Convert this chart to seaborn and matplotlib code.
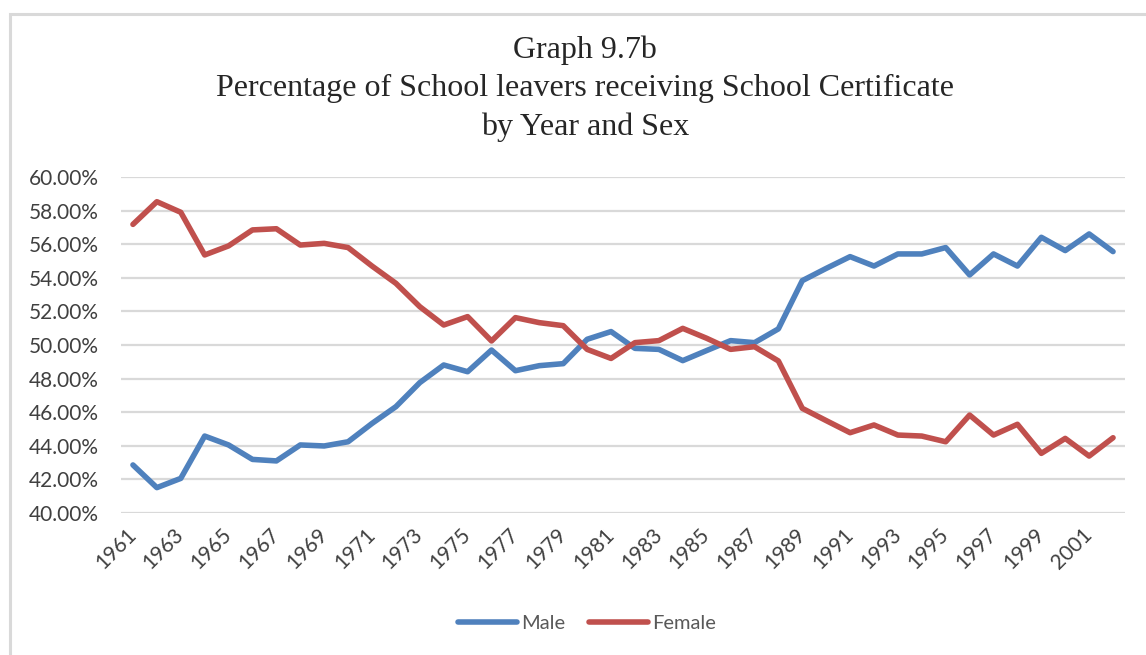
import numpy as np
import pandas as pd
import matplotlib
matplotlib.use("Agg")
import matplotlib.pyplot as plt
from matplotlib.patches import Rectangle
import seaborn as sns

# ---------------------------------------------------------------------------
# Data (percent of school leavers receiving School Certificate)
# ---------------------------------------------------------------------------
years = list(range(1961, 2003))
male = [
    42.86, 41.51, 42.06, 44.58, 44.05, 43.19, 43.10, 44.05, 43.99, 44.24,
    45.33, 46.33, 47.76, 48.81, 48.41, 49.70, 48.47, 48.77, 48.89, 50.34,
    50.80, 49.80, 49.74, 49.07, 49.67, 50.26, 50.14, 50.96, 53.83, 54.56,
    55.26, 54.70, 55.42, 55.42, 55.80, 54.17, 55.42, 54.70, 56.41, 55.62,
    56.61, 55.56,
]
female = [
    57.18, 58.53, 57.90, 55.36, 55.90, 56.85, 56.92, 55.95, 56.05, 55.80,
    54.70, 53.67, 52.28, 51.19, 51.69, 50.24, 51.63, 51.33, 51.15, 49.74,
    49.20, 50.14, 50.26, 50.99, 50.40, 49.74, 49.90, 49.05, 46.23, 45.50,
    44.78, 45.24, 44.64, 44.58, 44.24, 45.83, 44.64, 45.28, 43.55, 44.44,
    43.39, 44.48,
]
sexes = ["Male", "Female"]
colors = {"Male": "#4F81BD", "Female": "#C0504D"}
title_lines = [
    "Graph 9.7b",
    "Percentage of School leavers receiving School Certificate",
    "by Year and Sex",
]

df = pd.DataFrame({
    "Year": years * 2,
    "Pct": male + female,
    "Sex": ["Male"] * len(years) + ["Female"] * len(years),
})

# ---------------------------------------------------------------------------
# Figure
# ---------------------------------------------------------------------------
sns.set_style("white")
plt.rcParams["font.family"] = ["Lato", "DejaVu Sans"]

W, H = 1146, 655
fig = plt.figure(figsize=(W / 100, H / 100), dpi=100)

# light grey chart frame (top and left edges visible)
fig.patches.append(Rectangle((9.5 / W, -0.1), 1.2, 1 - 13.5 / H + 0.1,
                             transform=fig.transFigure, fill=False,
                             edgecolor="#D9D9D9", linewidth=2.2))

ax = fig.add_axes([121 / W, 1 - 513 / H, (1125 - 121) / W, (513 - 177) / H])
sns.lineplot(data=df, x="Year", y="Pct", hue="Sex", hue_order=sexes,
             palette=colors, linewidth=4, ax=ax)

ax.set_xlim(1960.5, 2002.5)
ax.set_ylim(40, 60)
ax.set_yticks(np.arange(40, 61, 2))
ax.set_yticklabels([f"{v:.2f}%" for v in np.arange(40, 61, 2)],
                   fontsize=15, color="#404040")
ax.set_xticks(years[::2])
ax.set_xticklabels([str(y) for y in years[::2]], rotation=45, ha="right",
                   va="center", rotation_mode="anchor", fontsize=15,
                   color="#404040")
ax.tick_params(axis="both", length=0)
ax.tick_params(axis="y", pad=16)
ax.tick_params(axis="x", pad=13)
ax.yaxis.grid(True, color="#D9D9D9", linewidth=1.6)
ax.set_axisbelow(True)
for s in ax.spines.values():
    s.set_visible(False)
ax.set_xlabel("")
ax.set_ylabel("")

handles, labels = ax.get_legend_handles_labels()
ax.get_legend().remove()
fig.legend(handles, labels, loc="center", bbox_to_anchor=(587 / W, 1 - 623 / H),
           ncol=2, frameon=False, fontsize=14.5, handlelength=2.9,
           handletextpad=0.2, columnspacing=1.2, labelcolor="#595959")

fig.text(585 / W, 1 - 89 / H, "\n".join(title_lines), ha="center", va="center",
         family="Liberation Serif", fontsize=23, linespacing=1.42)

fig.savefig("out.png", dpi=100)
